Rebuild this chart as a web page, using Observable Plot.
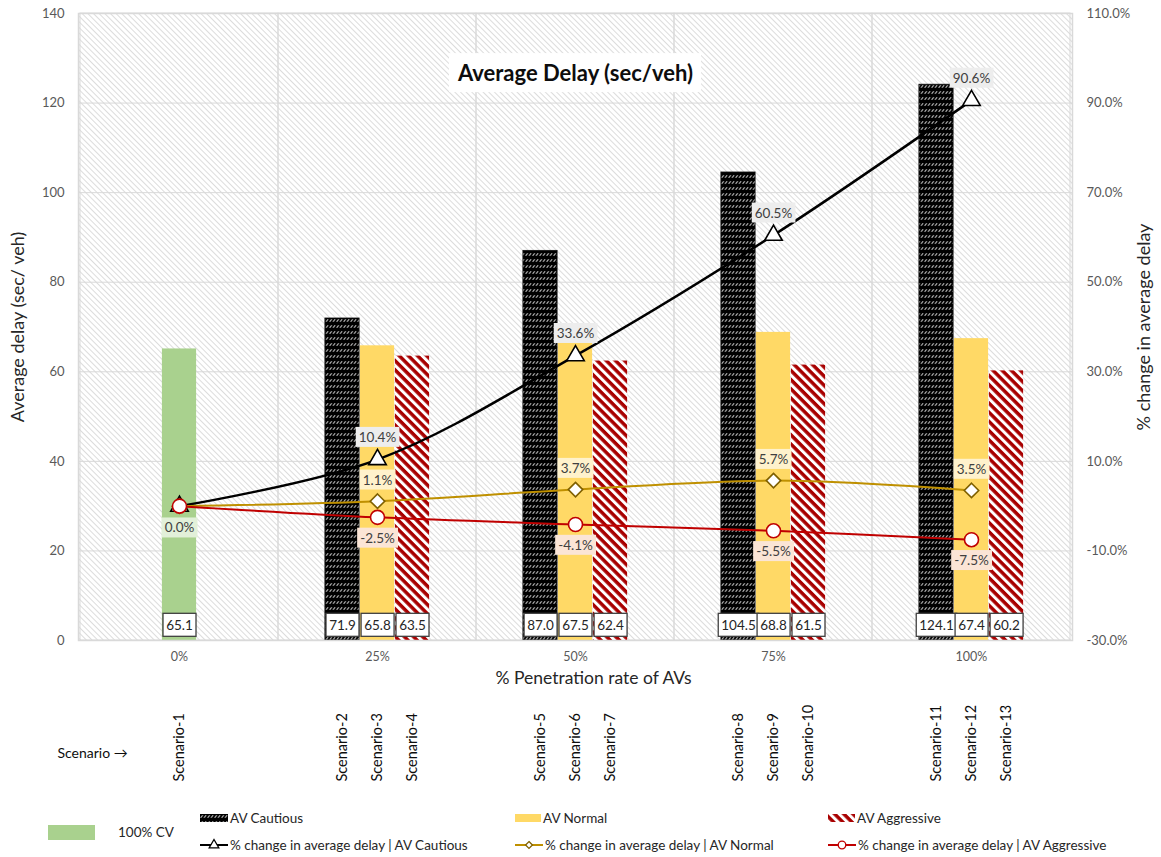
<!DOCTYPE html>
<html><head><meta charset="utf-8">
<script src="https://cdn.jsdelivr.net/npm/d3@7"></script>
<script src="https://cdn.jsdelivr.net/npm/@observablehq/plot@0.6"></script>
<style>
body{margin:0;background:#fff;font-family:Lato,"Open Sans",sans-serif;}
#legend{position:relative;width:1161px;height:57px;font-size:13.5px;color:#262626;}
#legend .it{position:absolute;display:flex;align-items:center;white-space:nowrap;height:16px;}
</style></head><body>
<div id="chart"></div><div id="legend"></div>
<script>
// ---- data ----
const categories = ["0%","25%","50%","75%","100%"];
const cvDelay = [65.1, null, null, null, null];
const cautiousDelay = [null, 71.9, 87.0, 104.5, 124.1];
const normalDelay = [null, 65.8, 67.5, 68.8, 67.4];
const aggressiveDelay = [null, 63.5, 62.4, 61.5, 60.2];
const cautiousChange = [0.0, 10.4, 33.6, 60.5, 90.6];
const normalChange = [0.0, 1.1, 3.7, 5.7, 3.5];
const aggressiveChange = [0.0, -2.5, -4.1, -5.5, -7.5];
const cvScenario = ["Scenario-1", null, null, null, null];
const cautiousScenario = [null, "Scenario-2", "Scenario-5", "Scenario-8", "Scenario-11"];
const normalScenario = [null, "Scenario-3", "Scenario-6", "Scenario-9", "Scenario-12"];
const aggressiveScenario = [null, "Scenario-4", "Scenario-7", "Scenario-10", "Scenario-13"];
const delayTicks = [0,20,40,60,80,100,120,140];
const delayDomain = [0,140];
const changeDomain = [-30,110];
const titleText = "Average Delay (sec/veh)";
const yTitleLeft = "Average delay (sec/ veh)";
const yTitleRight = "% change in average delay";
const xTitle = "% Penetration rate of AVs";
const legendLabels = ["100% CV","AV Cautious","AV Normal","AV Aggressive",
  "% change in average delay | AV Cautious","% change in average delay | AV Normal","% change in average delay | AV Aggressive"];

// ---- layout / style ----
const W = 1161, H = 800, ML = 78, MR = 89, MT = 13, MB = 160;
const bw = (W - ML - MR) / categories.length, barW = 35, c0 = (bw - barW) / 2;
const toLeft = p => (p - changeDomain[0]) * (delayDomain[1] - delayDomain[0]) / (changeDomain[1] - changeDomain[0]);
const fromLeft = v => v * (changeDomain[1] - changeDomain[0]) / (delayDomain[1] - delayDomain[0]) + changeDomain[0];
const colors = {cv:"#a9d18e", normal:"#ffd966", red:"#a80000", lineN:"#bf9000", lineA:"#c00000", diamond:"#7f6000"};
// unique fills used to find label groups after rendering
const tag = {val:"#262627", C:"#404041", N:"#404042", A:"#404043", V:"#404044", title:"#0d0d0e"};

const rows = categories.map((cat, i) => ({cat, i,
  cv: cvDelay[i], cautious: cautiousDelay[i], normal: normalDelay[i], aggressive: aggressiveDelay[i],
  pc: cautiousChange[i], pn: normalChange[i], pa: aggressiveChange[i],
  sv: cvScenario[i], sc: cautiousScenario[i], sn: normalScenario[i], sa: aggressiveScenario[i]}));
const has = k => rows.filter(d => d[k] != null);
const inset = off => ({insetLeft: c0 + off, insetRight: c0 - off});
const F = "Lato, 'Open Sans', sans-serif";

const chart = Plot.plot({
  width: W, height: H, marginLeft: ML, marginRight: MR, marginTop: MT, marginBottom: MB,
  style: {fontFamily: F, fontSize: "13px", color: "#595959", background: "#fff"},
  x: {type: "band", domain: categories, padding: 0, axis: null},
  y: {domain: delayDomain, axis: null},
  marks: [
    Plot.frame({fill: "url(#bgHatch)", stroke: "none"}),
    Plot.gridY(delayTicks, {stroke: "#d9d9d9", strokeOpacity: 1}),
    Plot.barY(categories, {x: d => d, y1: delayDomain[0], y2: delayDomain[1], fill: "none", stroke: "#d9d9d9"}),
    Plot.barY(has("cv"), {x: "cat", y: "cv", fill: colors.cv, ...inset(0)}),
    Plot.barY(has("cautious"), {x: "cat", y: "cautious", fill: "url(#patCautious)", stroke: "#111", strokeWidth: 0.8, ...inset(-barW)}),
    Plot.barY(has("normal"), {x: "cat", y: "normal", fill: colors.normal, ...inset(0)}),
    Plot.barY(has("aggressive"), {x: "cat", y: "aggressive", fill: "url(#patAggressive)", ...inset(barW)}),
    // value boxes
    Plot.text(has("cv"), {x: "cat", y: 0, text: d => d.cv.toFixed(1), dy: -15, fill: tag.val, fontSize: 13.5}),
    Plot.text(has("cautious"), {x: "cat", y: 0, text: d => d.cautious.toFixed(1), dx: -barW, dy: -15, fill: tag.val, fontSize: 13.5}),
    Plot.text(has("normal"), {x: "cat", y: 0, text: d => d.normal.toFixed(1), dy: -15, fill: tag.val, fontSize: 13.5}),
    Plot.text(has("aggressive"), {x: "cat", y: 0, text: d => d.aggressive.toFixed(1), dx: barW, dy: -15, fill: tag.val, fontSize: 13.5}),
    // lines
    Plot.line(rows, {x: "cat", y: d => toLeft(d.pc), stroke: "#000", strokeWidth: 2.5, curve: "catmull-rom"}),
    Plot.line(rows, {x: "cat", y: d => toLeft(d.pn), stroke: colors.lineN, strokeWidth: 2, curve: "catmull-rom"}),
    Plot.line(rows, {x: "cat", y: d => toLeft(d.pa), stroke: colors.lineA, strokeWidth: 2, curve: "catmull-rom"}),
    Plot.dot(rows, {x: "cat", y: d => toLeft(d.pc), symbol: "triangle", r: 6.5, fill: "#fff", stroke: "#000", strokeWidth: 1.6}),
    Plot.dot(rows, {x: "cat", y: d => toLeft(d.pn), symbol: "diamond2", r: 6.5, fill: "#fff", stroke: colors.diamond, strokeWidth: 1.6}),
    Plot.dot(rows, {x: "cat", y: d => toLeft(d.pa), symbol: "circle", r: 7, fill: "#fff", stroke: colors.lineA, strokeWidth: 1.6}),
    // change labels
    Plot.text(rows.filter(d => d.i > 0), {x: "cat", y: d => toLeft(d.pc), text: d => d.pc.toFixed(1) + "%", dy: -22, fill: tag.C, fontSize: 13.5}),
    Plot.text(rows.filter(d => d.i > 0), {x: "cat", y: d => toLeft(d.pn), text: d => d.pn.toFixed(1) + "%", dy: -21, fill: tag.N, fontSize: 13.5}),
    Plot.text(rows.filter(d => d.i > 0), {x: "cat", y: d => toLeft(d.pa), text: d => d.pa.toFixed(1) + "%", dy: 21, fill: tag.A, fontSize: 13.5}),
    Plot.text(rows.filter(d => d.i === 0), {x: "cat", y: d => toLeft(d.pc), text: d => d.pc.toFixed(1) + "%", dy: 22, fill: tag.V, fontSize: 13.5}),
    // title
    Plot.text([titleText], {frameAnchor: "top", dy: 52, fontSize: 22, fontWeight: "bold", fill: tag.title}),
    // axes
    Plot.axisY({ticks: delayTicks, anchor: "left", tickSize: 0, tickPadding: 14, fontSize: 13, label: null, color: "#595959"}),
    Plot.axisY({ticks: delayTicks, anchor: "right", tickSize: 0, tickPadding: 14, fontSize: 13, label: null, color: "#595959",
      tickFormat: v => fromLeft(v).toFixed(1) + "%"}),
    Plot.axisX({tickSize: 0, tickPadding: 12, fontSize: 12.5, label: null, color: "#595959"}),
    Plot.text([yTitleLeft], {frameAnchor: "left", dx: -60, rotate: -90, textAnchor: "middle", fontSize: 18, fill: "#262626"}),
    Plot.text([yTitleRight], {frameAnchor: "right", dx: 72, rotate: -90, textAnchor: "middle", fontSize: 18, fill: "#262626"}),
    Plot.text([xTitle], {frameAnchor: "bottom", dx: 18, dy: 43, fontSize: 17.5, fill: "#262626"}),
    // scenarios
    Plot.text(has("sv"), {x: "cat", y: 0, text: "sv", dy: 141, rotate: -90, textAnchor: "start", fontSize: 14.5, fill: "#0d0d0d"}),
    Plot.text(has("sc"), {x: "cat", y: 0, text: "sc", dx: -barW, dy: 141, rotate: -90, textAnchor: "start", fontSize: 14.5, fill: "#0d0d0d"}),
    Plot.text(has("sn"), {x: "cat", y: 0, text: "sn", dy: 141, rotate: -90, textAnchor: "start", fontSize: 14.5, fill: "#0d0d0d"}),
    Plot.text(has("sa"), {x: "cat", y: 0, text: "sa", dx: barW, dy: 141, rotate: -90, textAnchor: "start", fontSize: 14.5, fill: "#0d0d0d"}),
    Plot.text(["Scenario \u2192"], {frameAnchor: "bottom-left", dx: -21, dy: 117, textAnchor: "start", fontSize: 14, fill: "#0d0d0d"}),
    Plot.frame({stroke: "#d9d9d9", strokeWidth: 1.5})
  ]
});

document.getElementById("chart").append(chart);

// pattern defs
const defs = d3.select(chart).insert("defs", ":first-child");
const bg = defs.append("pattern").attr("id", "bgHatch").attr("width", 4).attr("height", 4)
  .attr("patternUnits", "userSpaceOnUse").attr("patternTransform", "rotate(-45)");
bg.append("rect").attr("width", 4).attr("height", 4).attr("fill", "#fff");
bg.append("rect").attr("width", 1).attr("height", 4).attr("fill", "#dcdcdc");
const pc = defs.append("pattern").attr("id", "patCautious").attr("width", 3.5).attr("height", 6)
  .attr("patternUnits", "userSpaceOnUse");
pc.append("rect").attr("width", 3.5).attr("height", 6).attr("fill", "#000");
pc.append("line").attr("x1", 0.6).attr("y1", 3.8).attr("x2", 2.7).attr("y2", 1.2).attr("stroke", "#e6e6e6").attr("stroke-width", 1);
const pa = defs.append("pattern").attr("id", "patAggressive").attr("width", 6.5).attr("height", 6.5)
  .attr("patternUnits", "userSpaceOnUse").attr("patternTransform", "rotate(-45)");
pa.append("rect").attr("width", 6.5).attr("height", 6.5).attr("fill", colors.red);
pa.append("rect").attr("width", 3).attr("height", 6.5).attr("fill", "#fff");

// boxes behind labels
function boxify(fillTag, {fill, stroke = "none", padX = 3, padY = 2, minW = 0, textFill}) {
  d3.select(chart).selectAll("g").filter(function() { return this.getAttribute("fill") === fillTag; })
    .each(function() {
      const g = this;
      g.setAttribute("fill", textFill);
      d3.select(g).selectAll("text").each(function() {
        const b = this.getBBox();
        const w = Math.max(b.width + 2 * padX, minW);
        d3.select(g).insert("rect", () => this)
          .attr("x", b.x + b.width / 2 - w / 2).attr("y", b.y - padY)
          .attr("width", w).attr("height", b.height + 2 * padY)
          .attr("transform", this.getAttribute("transform"))
          .attr("fill", fill).attr("stroke", stroke).attr("stroke-width", 1.3);
      });
    });
}
boxify(tag.val, {fill: "#fff", stroke: "#404040", padX: 3, padY: 3.5, minW: 33, textFill: "#262626"});
boxify(tag.C, {fill: "#ededed", padX: 3, padY: 2, textFill: "#404040"});
boxify(tag.N, {fill: "#fff2cc", padX: 3, padY: 2, textFill: "#404040"});
boxify(tag.A, {fill: "#fbe5d6", padX: 3, padY: 2, textFill: "#404040"});
boxify(tag.V, {fill: "#e2f0d9", padX: 3, padY: 2, textFill: "#404040"});
boxify(tag.title, {fill: "#fff", padX: 8, padY: 6, textFill: "#0d0d0d"});

// legend
const legend = d3.select("#legend");
const top0 = H;
function item(left, cy, swatch, text) {
  const it = legend.append("div").attr("class", "it").style("left", left + "px").style("top", (cy - top0 - 8) + "px");
  swatch(it);
  it.append("span").text(text);
}
const rectSw = (fill, w, h, gap) => it => {
  const s = it.append("svg").attr("width", w).attr("height", h).style("margin-right", gap + "px");
  s.append("rect").attr("width", w).attr("height", h).attr("fill", fill);
};
const lineSw = (stroke, sym, symFill, symStroke, size) => it => {
  const s = it.append("svg").attr("width", 28).attr("height", 14).style("margin-right", "2px");
  s.append("line").attr("x1", 0).attr("x2", 28).attr("y1", 7).attr("y2", 7).attr("stroke", stroke).attr("stroke-width", 2);
  s.append("path").attr("d", d3.symbol(sym, size)()).attr("transform", "translate(14,7)")
    .attr("fill", symFill).attr("stroke", symStroke).attr("stroke-width", 1.3);
};
item(48, 832, rectSw(colors.cv, 47, 15, 23), legendLabels[0]);
item(200, 818, rectSw("url(#patCautious)", 28, 8, 2), legendLabels[1]);
item(515, 818, rectSw(colors.normal, 26, 8, 2), legendLabels[2]);
item(828, 818, rectSw("url(#patAggressive)", 27, 8, 2), legendLabels[3]);
item(200, 845, lineSw("#000", d3.symbolTriangle, "#fff", "#000", 40), legendLabels[4]);
item(515, 845, lineSw(colors.lineN, d3.symbolDiamond2, "#fff", colors.diamond, 30), legendLabels[5]);
item(828, 845, lineSw(colors.lineA, d3.symbolCircle, "#fff", colors.lineA, 45), legendLabels[6]);
</script>
</body></html>
